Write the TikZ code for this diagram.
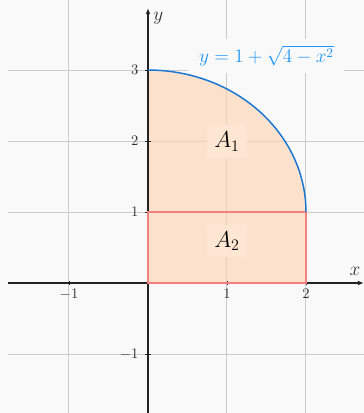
\documentclass[tikz,border=0pt]{standalone}
\usetikzlibrary{arrows.meta}
\definecolor{bgc}{RGB}{249,249,249}
\definecolor{gridc}{RGB}{204,204,204}
\definecolor{peach}{RGB}{255,212,174}
\definecolor{lblbg}{RGB}{253,231,210}
\definecolor{rectc}{RGB}{242,128,128}
\definecolor{curvec}{RGB}{25,118,210}
\definecolor{eqc}{RGB}{33,150,243}
\definecolor{axc}{RGB}{34,34,34}
\definecolor{tickc}{RGB}{51,51,51}
\begin{document}
\begin{tikzpicture}[x=59.25pt,y=53.25pt,
  gridline/.style={draw=gridc,line width=0.75pt},
  axisline/.style={draw=axc,line width=0.9pt},
  ticklbl/.style={text=tickc,font=\fontsize{11}{13}\selectfont,inner sep=1pt},
  arealbl/.style={fill=lblbg,text=black,font=\fontsize{16.5}{19}\selectfont,minimum width=30pt,minimum height=24.5pt,inner sep=2pt},
  axlbl/.style={text=tickc,font=\fontsize{14.5}{17}\selectfont,inner sep=1pt}]
\fill[bgc] (-1.8734,-1.831) rectangle (2.7342,3.986);
\useasboundingbox (-1.8734,-1.831) rectangle (2.7342,3.986);
% grid
\foreach \gx in {-1,1,2} \draw[gridline] (\gx,-1.831) -- (\gx,3.986);
\foreach \gy in {-1,1,2,3} \draw[gridline] (-1.772,\gy) -- (2.7342,\gy);
% shaded area
\fill[peach,opacity=0.6] (0,0) -- (0,3) -- plot[domain=90:0,samples=80] ({2*cos(\x)},{1+2*sin(\x)}) -- (2,0) -- cycle;
% equation label
\node[fill=bgc,text=eqc,font=\fontsize{14.8}{17}\selectfont,minimum width=117pt,minimum height=26pt,inner sep=0pt] (eq) at (1.5,3.197) {$y=1+\sqrt{4-x^2}$};
% axes
\draw[axisline,-{Latex[length=4.5pt,width=3.5pt]}] (-1.772,0) -- (2.7342,0);
\draw[axisline,-{Latex[length=4.5pt,width=3.5pt]}] (0,-1.831) -- (0,3.873);
\node[axlbl] (xl) at (2.62,0.17) {$x$};
\node[axlbl] (yl) at (0.13,3.73) {$y$};
% ticks
\foreach \tx in {-1,1,2} {
  \draw[axc,line width=0.6pt] (\tx,-0.035) -- (\tx,0.035);
  \node[ticklbl,anchor=north] (tx\tx) at (\tx,-0.07) {$\tx$};
}
\foreach \ty in {-1,1,2,3} {
  \draw[axc,line width=0.6pt] (-0.035,\ty) -- (0.035,\ty);
  \node[ticklbl,anchor=east] (ty\ty) at (-0.1,\ty) {$\ty$};
}
% rectangle
\draw[rectc,line width=0.9pt] (0,0) rectangle (2,1);
% curve
\draw[curvec,line width=1.1pt] plot[domain=90:0,samples=80] ({2*cos(\x)},{1+2*sin(\x)});
% area labels
\node[arealbl] (a1) at (1,1.99) {$A_1$};
\node[arealbl] (a2) at (1,0.59) {$A_2$};
\end{tikzpicture}
\end{document}
